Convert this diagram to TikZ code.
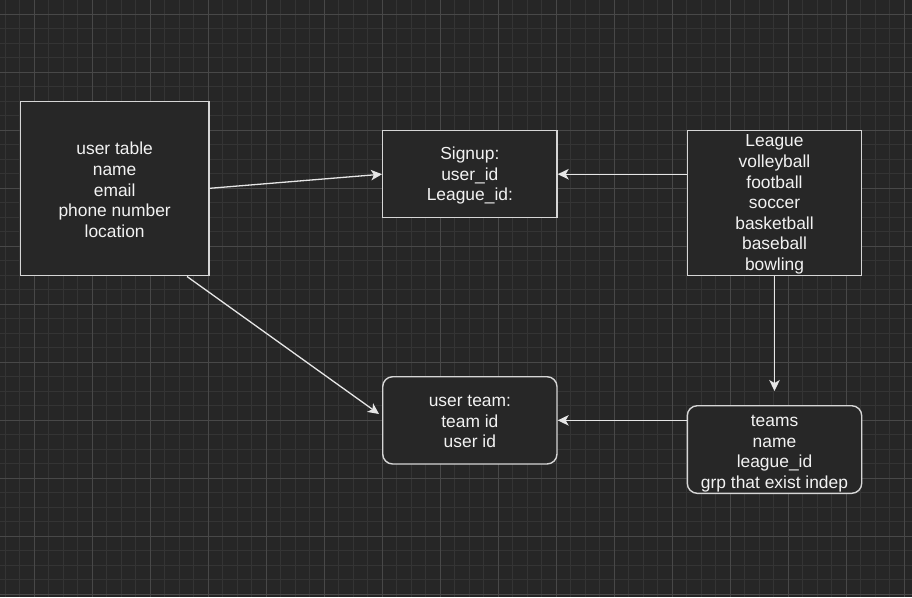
\documentclass[tikz,border=0pt]{standalone}
\usepackage{fontspec}
\setmainfont{Liberation Sans}
\usetikzlibrary{arrows.meta}
\definecolor{bg}{HTML}{262626}
\definecolor{gridminor}{HTML}{343434}
\definecolor{gridmajor}{HTML}{484848}
\definecolor{boxline}{HTML}{D6D6D6}
\definecolor{boxfill}{HTML}{272727}
\definecolor{txt}{HTML}{F2F2F2}
\definecolor{arrowcol}{HTML}{E6E6E6}
\begin{document}
\begin{tikzpicture}[x=1pt,y=-1pt,
  tbl/.style={draw=boxline, fill=boxfill, line width=1.4pt, inner sep=0pt},
  rtbl/.style={tbl, rounded corners=10pt},
  label text/.style={text=txt, align=center, inner sep=0pt,
    font=\fontsize{17.4}{20.6}\selectfont},
  conn/.style={draw=arrowcol, line width=1.3pt,
    -{Stealth[length=11pt,width=10.5pt,inset=3pt]}},
  minorline/.style={draw=gridminor, line width=0.8pt},
  majorline/.style={draw=gridmajor, line width=1pt}]
\fill[bg] (0,0) rectangle (912,597);
\useasboundingbox (0,0) rectangle (912,597);
% grid
\foreach \i in {0,...,63} \draw[minorline] ({5.3+14.5*\i},0) -- ({5.3+14.5*\i},597);
\foreach \j in {0,...,41} \draw[minorline] (0,{-0.2+14.5*\j}) -- (912,{-0.2+14.5*\j});
\foreach \k in {-1,...,15} \draw[majorline] ({34.3+58*\k},0) -- ({34.3+58*\k},597);
\foreach \k in {0,...,10} \draw[majorline] (0,{14.3+58*\k}) -- (912,{14.3+58*\k});
% boxes
\node[tbl, minimum width=188.7pt, minimum height=174pt] (utable) at (114.65,188.3) {};
\node[tbl, minimum width=174.3pt, minimum height=87pt] (signup) at (469.85,174.2) {};
\node[tbl, minimum width=174.4pt, minimum height=144.6pt] (league) at (774.5,203) {};
\node[rtbl, minimum width=174.3pt, minimum height=87.3pt] (uteam) at (469.85,420.35) {};
\node[rtbl, minimum width=174.4pt, minimum height=87.6pt] (teams) at (774.5,449.5) {};
% texts
\node[label text] (utablet) at ([yshift=-1.5pt]utable.center)
  {user table\\name\\email\\phone number\\location};
\node[label text] (signupt) at ([yshift=-1.5pt]signup.center)
  {Signup:\\user\_id\\League\_id:};
\node[label text] (leaguet) at ([yshift=-1.5pt]league.center)
  {League\\volleyball\\football\\soccer\\basketball\\baseball\\bowling};
\node[label text] (uteamt) at ([yshift=-1.5pt]uteam.center)
  {user team:\\team id\\user id};
\node[label text] (teamst) at ([yshift=-4pt]teams.center)
  {teams\\name\\league\_id\\grp that exist indep};
% connector end points
\coordinate (a2s) at (187,276.5);
\coordinate (a2e) at (379,414);
\coordinate (a4e) at (774.5,391);
% connectors
\draw[conn] (utable.east) -- (signup.west);
\draw[conn] (a2s) -- (a2e);
\draw[conn] (league.west |- signup.east) -- (signup.east);
\draw[conn] (league.south) -- (a4e);
\draw[conn] (teams.west |- uteam.east) -- (uteam.east);
\end{tikzpicture}
\end{document}
